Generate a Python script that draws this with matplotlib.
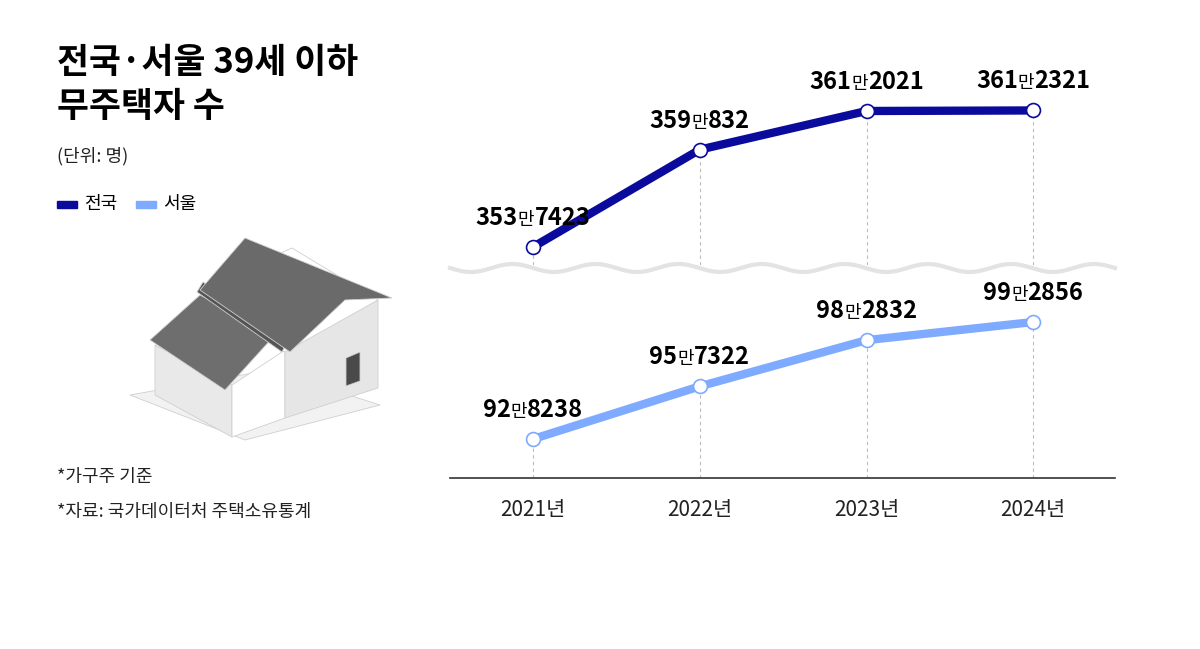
import numpy as np
import matplotlib.pyplot as plt
from matplotlib.patches import Polygon, Rectangle

plt.rcParams['font.family'] = ['Noto Sans CJK KR', 'DejaVu Sans']

years = [2021, 2022, 2023, 2024]
year_labels = ['2021년', '2022년', '2023년', '2024년']
national = [3537423, 3590832, 3612021, 3612321]
seoul = [928238, 957322, 982832, 992856]
national_labels = [('353', '7423'), ('359', '832'), ('361', '2021'), ('361', '2321')]
seoul_labels = [('92', '8238'), ('95', '7322'), ('98', '2832'), ('99', '2856')]

DARK = '#0a0a9c'
LIGHT = '#7eaaff'
W, H = 1200, 649

fig = plt.figure(figsize=(W / 100, H / 100), dpi=100)


def fy(px):
    return 1 - px / H


left, right = 450 / W, 1115 / W
ax_top = fig.add_axes([left, fy(265), right - left, fy(60) - fy(265)])
ax_bot = fig.add_axes([left, fy(478), right - left, fy(280) - fy(478)])
ax_top.set_ylim(3527550, 3639990)
ax_bot.set_ylim(906698, 1016053)
for ax in (ax_top, ax_bot):
    ax.set_xlim(2020.502, 2024.49)
    ax.axis('off')

# dashed guides
for ax, vals in ((ax_top, national), (ax_bot, seoul)):
    for x, v in zip(years, vals):
        ax.plot([x, x], [ax.get_ylim()[0], v], ls=(0, (3, 3)), color='#bbbbbb', lw=0.8, zorder=1)
ax_bot.axhline(ax_bot.get_ylim()[0], color='#333333', lw=1.2, clip_on=False)

ax_top.plot(years, national, color=DARK, lw=6, zorder=2, solid_capstyle='butt')
ax_top.plot(years, national, 'o', ms=10, mfc='white', mec=DARK, mew=1.2, zorder=3)
ax_bot.plot(years, seoul, color=LIGHT, lw=6, zorder=2, solid_capstyle='butt')
ax_bot.plot(years, seoul, 'o', ms=10, mfc='white', mec=LIGHT, mew=1.2, zorder=3)

for x, lab in zip(years, year_labels):
    fig.text((533 + (x - 2021) * 166.7) / W, fy(510), lab, ha='center', va='center',
             fontsize=15, color='#222222')

# wavy break line
wx = np.linspace(450, 1115, 400)
wy = 268 + 4 * np.sin((wx - 450) / 665 * 2 * np.pi * 8)
fig.add_artist(plt.Line2D(wx / W, fy(wy), color='#e3e3e3', lw=3))

# value labels with small 만
fig.canvas.draw()
renderer = fig.canvas.get_renderer()


def place_label(ax, x, v, parts):
    px, py = ax.transData.transform((x, v))
    py += 30
    pieces = [(parts[0], 17, 'bold'), ('만', 13, 'normal'), (parts[1], 17, 'bold')]
    texts = []
    total = 0
    for s, size, wt in pieces:
        t = fig.text(0, 0, s, fontsize=size, fontweight=wt, color='black',
                     va='baseline', ha='left', transform=None)
        w = t.get_window_extent(renderer).width
        texts.append((t, w))
        total += w
    cx = px - total / 2
    for t, w in texts:
        t.set_position((cx, py - 8))
        cx += w


for x, v, p in zip(years, national, national_labels):
    place_label(ax_top, x, v, p)
for x, v, p in zip(years, seoul, seoul_labels):
    place_label(ax_bot, x, v, p)

# title and notes
fig.text(57 / W, fy(62), '전국·서울 39세 이하', fontsize=25, fontweight='bold', va='center')
fig.text(57 / W, fy(107), '무주택자 수', fontsize=25, fontweight='bold', va='center')
fig.text(57 / W, fy(156), '(단위: 명)', fontsize=13, va='center', color='#222222')
fig.add_artist(Rectangle((57 / W, fy(208)), 20 / W, 7 / H, color=DARK))
fig.text(84 / W, fy(204), '전국', fontsize=13, va='center')
fig.add_artist(Rectangle((136 / W, fy(208)), 20 / W, 7 / H, color=LIGHT))
fig.text(163 / W, fy(204), '서울', fontsize=13, va='center')
fig.text(57 / W, fy(477), '*가구주 기준', fontsize=13, va='center', color='#222222')
fig.text(57 / W, fy(512), '*자료: 국가데이터처 주택소유통계', fontsize=13, va='center', color='#222222')

# house illustration (pixel coords)
house = [
    ([(130, 395), (245, 440), (380, 405), (270, 370)], '#f2f2f2'),
    ([(155, 345), (155, 395), (232, 437), (232, 385)], '#e9e9e9'),
    ([(232, 385), (232, 437), (285, 418), (285, 350)], '#ffffff'),
    ([(285, 350), (285, 418), (378, 388), (378, 300)], '#e6e6e6'),
    ([(198, 290), (285, 352), (378, 300), (292, 248)], '#ffffff'),
    ([(150, 340), (225, 390), (275, 335), (200, 295)], '#6e6e6e'),
    ([(197, 292), (282, 352), (287, 342), (203, 282)], '#555555'),
    ([(200, 290), (245, 238), (392, 298), (345, 300), (290, 352)], '#6a6a6a'),
    ([(346, 358), (346, 386), (360, 381), (360, 352)], '#4a4a4a'),
]
for pts, col in house:
    xy = [(a / W, fy(b)) for a, b in pts]
    fig.add_artist(Polygon(xy, closed=True, facecolor=col, edgecolor='#cfcfcf', lw=0.6))

fig.savefig('out.png', dpi=100)
